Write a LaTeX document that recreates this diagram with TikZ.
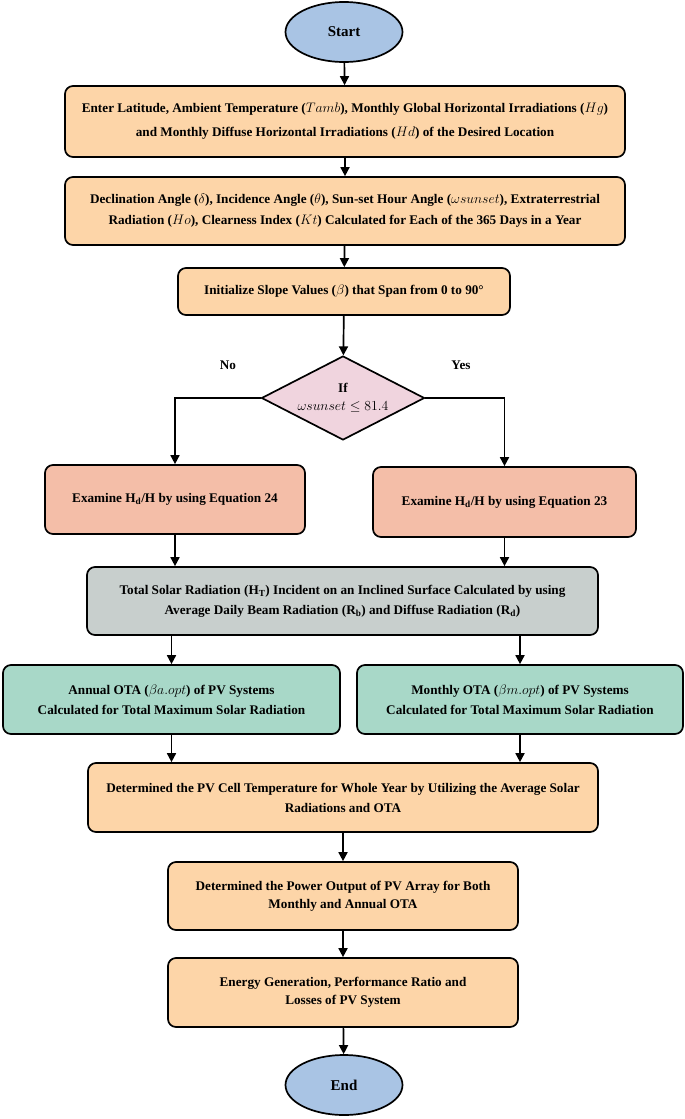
\documentclass[tikz,border=0pt]{standalone}
\usepackage{fontspec}
\setmainfont{Liberation Serif}
\usetikzlibrary{shapes.geometric,arrows.meta}
\definecolor{cblue}{RGB}{169,196,228}
\definecolor{corange}{RGB}{253,213,168}
\definecolor{cpink}{RGB}{240,212,222}
\definecolor{csalmon}{RGB}{244,190,168}
\definecolor{cgrey}{RGB}{200,207,205}
\definecolor{cgreen}{RGB}{168,216,200}
\newcommand{\mthx}[1]{\scalebox{1.15}{$#1$}}
\tikzset{
  box/.style={draw=black, line width=1.7pt, rounded corners=8pt, inner sep=0pt, align=center, text=black},
  txt/.style={font=\bfseries\fontsize{13.2}{#1}\selectfont},
  term/.style={draw=black, line width=1.7pt, ellipse, fill=cblue, inner sep=0pt, minimum width=117pt, minimum height=60pt, font=\bfseries\fontsize{15}{17}\selectfont},
  arr/.style={draw=black, line width=1.7pt, -{Triangle[length=9pt,width=9pt]}},
  lbl/.style={font=\bfseries\fontsize{13.2}{15}\selectfont, inner sep=1pt}
}
\begin{document}
\begin{tikzpicture}[x=1pt,y=-1pt]
\useasboundingbox (0,0) rectangle (685,1119);
\node[term] (start) at (344,32) {Start};
\node[box, fill=corange, minimum width=560pt, minimum height=71pt, txt=24] (b1) at (345,121.5)
  {Enter Latitude, Ambient Temperature (\mthx{T amb}), Monthly Global Horizontal Irradiations (\mthx{H g})\\
   and Monthly Diffuse Horizontal Irradiations (\mthx{H d}) of the Desired Location};
\node[box, fill=corange, minimum width=560pt, minimum height=68pt, txt=21] (b2) at (345,211)
  {Declination Angle (\mthx{\delta}), Incidence Angle (\mthx{\theta}), Sun-set Hour Angle (\mthx{\omega sunset}), Extraterrestrial\\
   Radiation (\mthx{H o}), Clearness Index (\mthx{K t}) Calculated for Each of the 365 Days in a Year};
\node[box, fill=corange, minimum width=332pt, minimum height=47pt, txt=15] (b3) at (344,291.5)
  {Initialize Slope Values (\mthx{\beta}) that Span from 0 to 90°};
\node[diamond, draw=black, line width=1.7pt, fill=cpink, aspect=1.94, minimum width=163pt, minimum height=84pt, inner sep=0pt, align=center, txt=18] (dia) at (343,398)
  {If\\ \mthx{\omega sunset \leq 81.4}};
\node[lbl] (no) at (228,365) {No};
\node[lbl] (yes) at (461,365) {Yes};
\node[box, fill=csalmon, minimum width=260pt, minimum height=69pt, txt=15] (b4) at (175,499.5)
  {Examine H\textsubscript{d}/H by using Equation 24};
\node[box, fill=csalmon, minimum width=263pt, minimum height=70pt, txt=15] (b5) at (504.5,502)
  {Examine H\textsubscript{d}/H by using Equation 23};
\node[box, fill=cgrey, minimum width=511pt, minimum height=68pt, txt=20] (b6) at (342.5,601)
  {Total Solar Radiation (H\textsubscript{T}) Incident on an Inclined Surface Calculated by using\\
   Average Daily Beam Radiation (R\textsubscript{b}) and Diffuse Radiation (R\textsubscript{d})};
\node[box, fill=cgreen, minimum width=337pt, minimum height=69pt, txt=20] (b7) at (171.5,699.5)
  {Annual OTA (\mthx{\beta a.opt}) of PV Systems\\ Calculated for Total Maximum Solar Radiation};
\node[box, fill=cgreen, minimum width=326pt, minimum height=69pt, txt=20] (b8) at (520,699.5)
  {Monthly OTA (\mthx{\beta m.opt}) of PV Systems\\ Calculated for Total Maximum Solar Radiation};
\node[box, fill=corange, minimum width=510pt, minimum height=69pt, txt=20] (b9) at (343,797.5)
  {Determined the PV Cell Temperature for Whole Year by Utilizing the Average Solar\\ Radiations and OTA};
\node[box, fill=corange, minimum width=350pt, minimum height=68pt, txt=18] (b10) at (343,896)
  {Determined the Power Output of PV Array for Both\\ Monthly and Annual OTA};
\node[box, fill=corange, minimum width=350pt, minimum height=69pt, txt=18] (b11) at (343,992.5)
  {Energy Generation, Performance Ratio and\\ Losses of PV System};
\node[term] (end) at (344,1085) {End};

\draw[arr] (start) -- (b1);
\draw[arr] (b1) -- (b2);
\draw[arr] (b2) -- (b3);
\draw[arr] (b3) -- (dia);
\draw[arr] (dia.west) -| (b4.north);
\draw[arr] (dia.east) -| (b5.north);
\draw[arr] (b4.south) -- (b4.south |- b6.north);
\draw[arr] (b5.south) -- (b5.south |- b6.north);
\draw[arr] (b6.south -| b7.north) -- (b7.north);
\draw[arr] (b6.south -| b8.north) -- (b8.north);
\draw[arr] (b7.south) -- (b7.south |- b9.north);
\draw[arr] (b8.south) -- (b8.south |- b9.north);
\draw[arr] (b9) -- (b10);
\draw[arr] (b10) -- (b11);
\draw[arr] (b11) -- (end);
\end{tikzpicture}
\end{document}
